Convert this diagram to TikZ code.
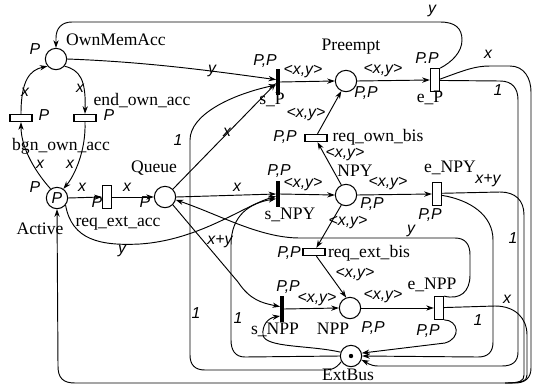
\documentclass[tikz,border=0pt]{standalone}
\usepackage{fontspec}
\setmainfont{Liberation Serif}
\newfontfamily\inscfont{Liberation Sans}
\usetikzlibrary{arrows.meta}
\tikzset{
  place/.style={circle, draw, line width=0.9pt, minimum size=0.64cm, inner sep=0pt},
  htrans/.style={rectangle, draw, line width=0.9pt, minimum width=0.66cm, minimum height=0.22cm, inner sep=0pt},
  vtrans/.style={rectangle, draw, line width=0.9pt, minimum width=0.28cm, minimum height=0.68cm, inner sep=0pt},
  bartrans/.style={rectangle, fill=black, minimum width=0.1cm, minimum height=0.8cm, inner sep=0pt},
  arc/.style={line width=0.8pt, -{Stealth[length=6.5pt,width=4.5pt]}},
  wire/.style={line width=0.8pt},
  pname/.style={font=\fontsize{15}{15}\selectfont, inner sep=0pt},
  insc/.style={font=\inscfont\itshape\fontsize{13.5}{13.5}\selectfont, inner sep=0pt},
}

\begin{document}
\begin{tikzpicture}[x=0.03cm, y=-0.03cm]
\useasboundingbox (0,0) rectangle (535,388);
\node[place] (own) at (56,59) {};
\node[htrans] (bgn) at (21,118) {};
\node[htrans] (endo) at (85,118) {};
\node[place, insc] (act) at (57,198) {P};
\node[vtrans] (rea) at (107,197) {};
\node[place] (que) at (165,197) {};
\node[bartrans] (sp) at (278,82) {};
\node[place] (pre) at (346,81) {};
\node[vtrans] (ep) at (435,80) {};
\node[htrans] (rob) at (316,138) {};
\node[bartrans] (snpy) at (278,194) {};
\node[place] (npy) at (346,195) {};
\node[vtrans] (enpy) at (437,194) {};
\node[htrans] (reb) at (314,252) {};
\node[bartrans] (snpp) at (282,309) {};
\node[place] (npp) at (350,308) {};
\node[vtrans] (enpp) at (439,308) {};
\node[place] (bus) at (351,356) {};
\fill (bus) circle (2.2);

\node[pname, anchor=west] at (66,40) {OwnMemAcc};
\node[insc] at (35,49) {P};
\node[pname] at (61,146) {bgn\_own\_acc};
\node[insc] at (44,115) {P};
\node[pname] at (142,101) {end\_own\_acc};
\node[insc] at (109,115) {P};
\node[pname] at (40,229) {Active};
\node[insc] at (35,187) {P};
\node[pname] at (118,223) {req\_ext\_acc};
\node[insc] at (97,202) {P};
\node[pname] at (154,168) {Queue};
\node[insc] at (145,202) {P};
\node[insc] at (265,61) {P,P};
\node[pname] at (272,100) {s\_P};
\node[pname] at (351,47) {Preempt};
\node[insc] at (366,93) {P,P};
\node[insc] at (427,58) {P.P};
\node[pname] at (430,98) {e\_P};
\node[insc] at (285,137) {P,P};
\node[pname] at (378,137) {req\_own\_bis};
\node[pname] at (355,171) {NPY};
\node[insc] at (372,204) {P,P};
\node[insc] at (279,171) {P,P};
\node[pname] at (290,215) {s\_NPY};
\node[pname] at (450,168) {e\_NPY};
\node[insc] at (430,215) {P,P};
\node[insc] at (289,253) {P,P};
\node[pname] at (369,253) {req\_ext\_bis};
\node[pname] at (333,329) {NPP};
\node[insc] at (373,328) {P,P};
\node[insc] at (288,287) {P,P};
\node[pname] at (275,330) {s\_NPP};
\node[pname] at (432,285) {e\_NPP};
\node[insc] at (428,331) {P,P};
\node[pname] at (348,375) {ExtBus};

\draw[arc] (ep.north east) .. controls (452,62) and (462,52) .. (462,40) .. controls (462,28) and (455,22) .. (440,22) -- (72,22) .. controls (62,22) and (56,28) .. (56,38) -- (own.north);
\draw[arc] (ep.10) .. controls (465,70) and (475,66) .. (490,66) -- (510,66) .. controls (524,66) and (531,78) .. (531,92) -- (531,368) .. controls (531,378) and (525,383) .. (515,383) -- (75,383) .. controls (63,383) and (58,378) .. (58,366) -- (act.south);
\draw[arc] (ep.-5) -- (500,81) .. controls (512,81) and (518,88) .. (518,100) -- (518,352) .. controls (518,362) and (512,366) .. (502,366) -- (378,366) .. controls (370,366) and (366,362) .. (bus.-20);
\draw[wire] (enpy.8) -- (500,192) .. controls (515,192) and (524,200) .. (524,215) -- (524,375) .. controls (524,381) and (520,383) .. (505,383);
\draw[arc] (enpy.-15) .. controls (470,200) and (493,215) .. (493,240) -- (493,342) .. controls (493,352) and (488,357) .. (478,357) -- (bus.east);
\draw[wire] (enpp.5) -- (495,306) .. controls (515,306) and (527,318) .. (527,335) -- (527,375) .. controls (527,381) and (522,383) .. (505,383);
\draw[arc] (enpp.south east) .. controls (458,320) and (462,338) .. (445,343) -- (bus.15);
\draw[arc] (enpp.north east) .. controls (460,300) and (470,292) .. (470,275) -- (470,255) .. controls (470,244) and (465,238) .. (455,238) -- (300,238) .. controls (260,238) and (220,215) .. (que.-15);
\draw[arc] (bus.210) .. controls (335,370) and (330,370) .. (320,370) -- (205,370) .. controls (195,370) and (190,365) .. (190,355) -- (190,140) .. controls (190,115) and (230,95) .. ([yshift=-2.5pt]sp.west);
\draw[arc] (bus.west) -- (245,357) .. controls (235,357) and (231,350) .. (231,340) -- (231,245) .. controls (231,215) and (250,203) .. ([yshift=-4pt]snpy.west);
\draw[arc] (bus.160) .. controls (310,345) and (265,348) .. (263,335) .. controls (262,325) and (268,318) .. ([yshift=-6pt]snpp.west);
\draw[arc] (que.north east) -- ([yshift=-1pt]sp.west);
\draw[arc] (que.east) -- (snpy.west);
\draw[arc] (que.south east) -- (238,282) .. controls (250,300) and (262,303) .. ([yshift=2pt]snpp.west);
\draw[arc] (act.-40) .. controls (72,240) and (100,246) .. (140,244) .. controls (200,240) and (245,205) .. ([yshift=-2pt]snpy.west);
\draw[arc] (own.east) .. controls (150,62) and (220,72) .. ([yshift=2pt]sp.west);
\draw[arc] (act.125) .. controls (38,175) and (21,150) .. (bgn.south);
\draw[arc] (bgn.north) .. controls (21,80) and (30,70) .. (own.220);
\draw[arc] (own.-40) .. controls (80,70) and (86,80) .. (endo.north);
\draw[arc] (endo.south) .. controls (86,150) and (75,175) .. (act.55);
\draw[arc] (act.east) -- (rea.west);
\draw[arc] (rea.east) -- (que.west);
\draw[arc] (sp.east) -- (pre.west);
\draw[arc] (pre.east) -- (ep.west);
\draw[arc] (rob.70) -- (pre.-115);
\draw[arc] (npy.115) -- (rob.-70);
\draw[arc] (snpy.east) -- (npy.west);
\draw[arc] (npy.east) -- (enpy.west);
\draw[arc] (npy.-115) -- (reb.60);
\draw[arc] (reb.-60) -- (npp.110);
\draw[arc] (snpp.east) -- (npp.west);
\draw[arc] (npp.east) -- (enpp.west);

\node[insc] at (432,11) {y};
\node[insc] at (488,54) {x};
\node[insc] at (498,90) {1};
\node[insc] at (212,71) {y};
\node[insc] at (25,92) {x};
\node[insc] at (80,88) {x};
\node[insc] at (40,164) {x};
\node[insc] at (70,164) {x};
\node[insc] at (82,187) {x};
\node[insc] at (127,187) {x};
\node[insc] at (122,251) {y};
\node[insc] at (227,132) {x};
\node[insc] at (178,140) {1};
\node[insc] at (237,187) {x};
\node[insc] at (220,242) {x+y};
\node[insc] at (196,313) {1};
\node[insc] at (238,318) {1};
\node[insc] at (303,72) {<x,y>};
\node[insc] at (383,71) {<x,y>};
\node[insc] at (306,115) {<x,y>};
\node[insc] at (345,155) {<x,y>};
\node[insc] at (303,185) {<x,y>};
\node[insc] at (388,184) {<x,y>};
\node[insc] at (488,181) {x+y};
\node[insc] at (513,238) {1};
\node[insc] at (348,223) {<x,y>};
\node[insc] at (411,231) {y};
\node[insc] at (355,275) {<x,y>};
\node[insc] at (317,300) {<x,y>};
\node[insc] at (383,297) {<x,y>};
\node[insc] at (507,299) {x};
\node[insc] at (478,320) {1};
\end{tikzpicture}
\end{document}
